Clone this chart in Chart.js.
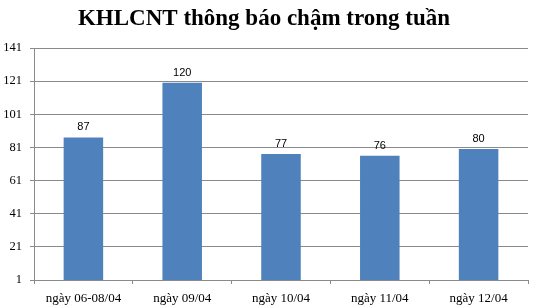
<!DOCTYPE html>
<html><head><meta charset="utf-8">
<script src="https://cdn.jsdelivr.net/npm/chart.js@4"></script>
<style>html,body{margin:0;padding:0;background:#fff}</style>
</head><body>
<canvas id="c" width="539" height="308" style="width:539px;height:308px;display:block"></canvas>
<script>
const categories = ["ngày 06-08/04", "ngày 09/04", "ngày 10/04", "ngày 11/04", "ngày 12/04"];
const values = [87, 120, 77, 76, 80];
const yTicks = [1, 21, 41, 61, 81, 101, 121, 141];
const titleText = "KHLCNT thông báo chậm trong tuần";

const valueLabels = {
  id: 'valueLabels',
  afterDatasetsDraw(chart) {
    const ctx = chart.ctx;
    const meta = chart.getDatasetMeta(0);
    ctx.save();
    ctx.font = '11px "Liberation Sans", Arial, sans-serif';
    ctx.fillStyle = '#000';
    ctx.textAlign = 'center';
    ctx.textBaseline = 'alphabetic';
    meta.data.forEach((bar, i) => {
      ctx.fillText(String(values[i]), bar.x, bar.y - 7);
    });
    ctx.restore();
  }
};

new Chart(document.getElementById('c'), {
  type: 'bar',
  data: {
    labels: categories,
    datasets: [{
      data: values,
      backgroundColor: '#4f81bd',
      borderWidth: 0,
      barPercentage: 0.4,
      categoryPercentage: 1.0
    }]
  },
  options: {
    responsive: false,
    devicePixelRatio: 1,
    animation: false,
    layout: { padding: { left: 0, right: 11, top: 0, bottom: 0 } },
    plugins: {
      legend: { display: false },
      tooltip: { enabled: false },
      title: {
        display: true,
        text: titleText,
        color: '#000',
        font: { family: '"Liberation Serif", "Times New Roman", serif', size: 23, weight: 'bold' },
        padding: { top: 5, bottom: 15.4 }
      }
    },
    scales: {
      y: {
        min: 1,
        max: 141,
        afterBuildTicks(scale) { scale.ticks = yTicks.map(v => ({ value: v })); },
        afterFit(scale) { scale.width = 34; },
        grid: { color: '#8a8a8a', tickLength: 4, lineWidth: 1 },
        border: { color: '#8a8a8a' },
        ticks: {
          color: '#000',
          padding: 8,
          font: { family: '"Liberation Serif", "Times New Roman", serif', size: 12.5 }
        }
      },
      x: {
        afterFit(scale) { scale.height = 28; },
        grid: { drawOnChartArea: false, drawTicks: true, tickLength: 4, color: '#8a8a8a', offset: true },
        border: { color: '#8a8a8a' },
        ticks: {
          color: '#000',
          padding: 7,
          maxRotation: 0,
          autoSkip: false,
          font: { family: '"Liberation Serif", "Times New Roman", serif', size: 13 }
        }
      }
    }
  },
  plugins: [valueLabels]
});
</script>
</body></html>
